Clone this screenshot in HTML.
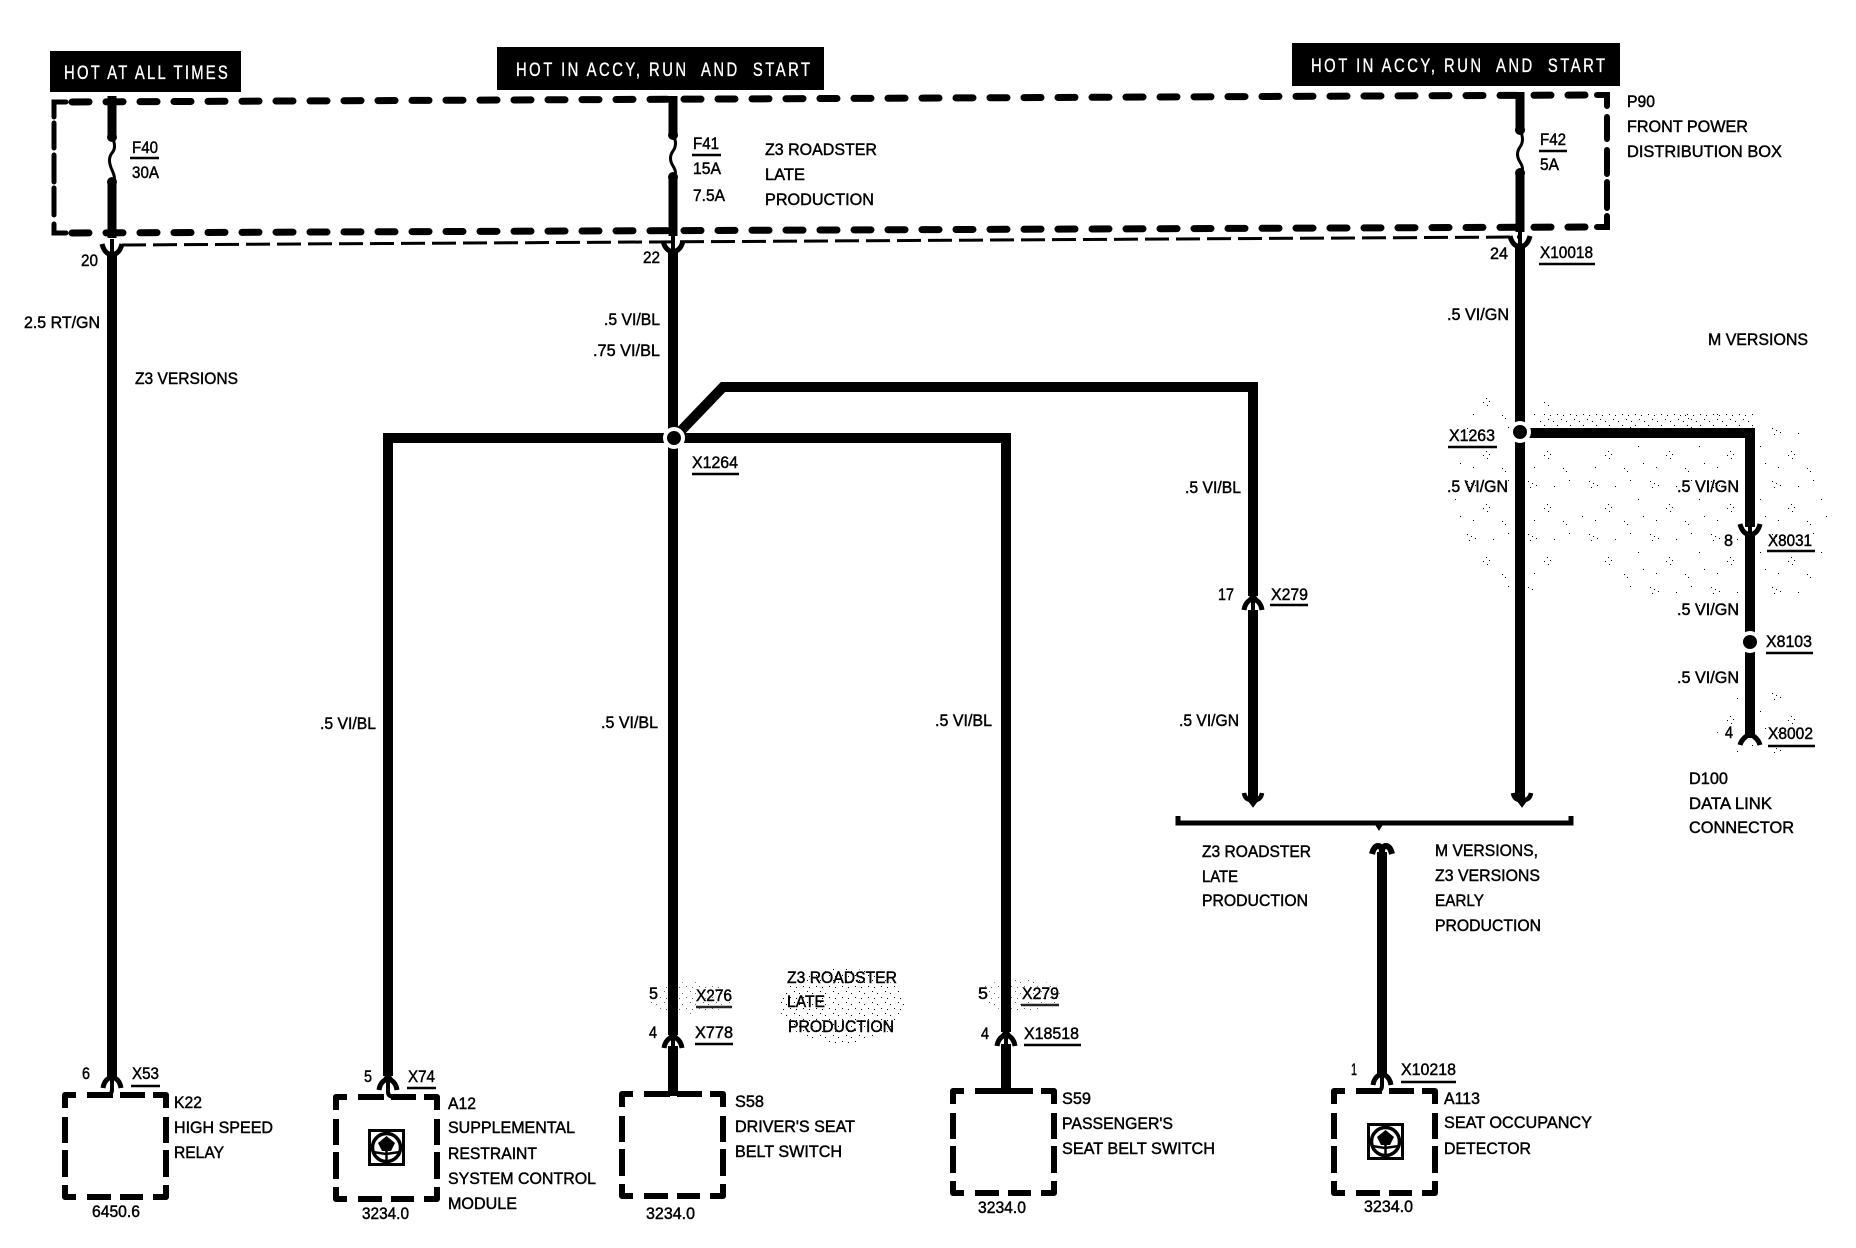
<!DOCTYPE html>
<html><head><meta charset="utf-8"><title>Wiring diagram</title>
<style>
html,body{margin:0;padding:0;background:#fff}
svg{display:block}
text{font-family:"Liberation Sans",sans-serif;font-size:16.5px;fill:#000;stroke:#000;stroke-width:.45px}
.h{fill:#fff;stroke:#fff;font-size:19px;stroke-width:.35px}
.w{fill:none;stroke:#000;stroke-width:10}
.t{fill:none;stroke:#000;stroke-width:3}
.u{stroke:#000;stroke-width:2.5}
.g{opacity:.85}
</style></head><body>
<svg width="1856" height="1248" viewBox="0 0 1856 1248" xmlns="http://www.w3.org/2000/svg">
<defs>
<pattern id="sp" width="61" height="53" patternUnits="userSpaceOnUse">
<path d="M3 4h1v1h-1zM7 6h1v1h-1zM5 10h1v1h-1zM11 8h1v1h-1zM29 9h1v1h-1zM44 3h1v1h-1zM22 27h1v1h-1zM25 30h1v1h-1zM19 31h1v1h-1zM23 34h1v1h-1zM52 22h1v1h-1zM38 44h1v1h-1zM41 47h1v1h-1zM9 43h1v1h-1zM57 39h1v1h-1z" fill="#000"/>
</pattern>
<pattern id="sd" width="13" height="11" patternUnits="userSpaceOnUse">
<path d="M1 1h1v1h-1zM6 3h1v1h-1zM10 7h1v1h-1zM3 8h1v1h-1z" fill="#000"/>
</pattern>
<g id="box" fill="none" stroke="#000" stroke-width="6" stroke-linejoin="round">
<path d="M0 13V0H11M22 0H48M55 0H80M88 0H101V13M0 22V48M0 55V82M101 22V48M101 55V82M0 90V102H11M22 102H46M55 102H78M88 102H101V90"/>
</g>
<g id="up"><path d="M-9 10Q-8 3 -3 0L0 -4L3 0Q8 3 9 10" fill="none" stroke="#000" stroke-width="5"/><path d="M0 0V10" stroke="#000" stroke-width="4"/></g>
<g id="dn"><path d="M-10 -4Q-8 4 -3 6L0 10L3 6Q8 4 10 -4" fill="none" stroke="#000" stroke-width="5"/><path d="M0 -9V8" stroke="#000" stroke-width="4"/></g>
<g id="en"><path d="M-9 -3Q-8 3 -3 4L0 8L3 4Q8 3 9 -3" fill="none" stroke="#000" stroke-width="4.5"/><path d="M0 -6V6" stroke="#000" stroke-width="6"/></g>
<g id="ic">
<rect x="1.5" y="1.5" width="34" height="34" fill="#fff" stroke="#000" stroke-width="3"/>
<circle cx="18.5" cy="18.5" r="14" fill="#fff" stroke="#000" stroke-width="3.5"/>
<path d="M18.5 7L27 14L23 22H14L10 14Z" fill="#000"/>
<path d="M18.5 20V33M5 23L18 25L32 23" stroke="#000" stroke-width="2.5" fill="none"/>
</g>
</defs>

<!-- speckle -->
<g>
<ellipse cx="1515" cy="490" rx="62" ry="105" fill="url(#sp)"/>
<ellipse cx="1690" cy="510" rx="110" ry="100" fill="url(#sp)"/>
<ellipse cx="1780" cy="510" rx="50" ry="90" fill="url(#sp)"/>
<rect x="1540" y="414" width="215" height="12" fill="url(#sd)"/>
<rect x="1700" y="500" width="50" height="60" fill="url(#sp)"/>
<ellipse cx="1760" cy="720" rx="45" ry="40" fill="url(#sp)"/>
<ellipse cx="842" cy="1006" rx="62" ry="38" fill="url(#sd)"/>
<ellipse cx="690" cy="998" rx="42" ry="16" fill="url(#sd)" opacity=".6"/>
<ellipse cx="1020" cy="995" rx="42" ry="16" fill="url(#sd)" opacity=".6"/>
</g>

<!-- header labels -->
<rect x="50" y="51" width="191" height="41" fill="#000"/>
<rect x="497" y="47" width="327" height="43" fill="#000"/>
<rect x="1292" y="43" width="328" height="43" fill="#000"/>
<g transform="translate(64 79) scale(.78 1)"><text class="h" textLength="210" lengthAdjust="spacing">HOT AT ALL TIMES</text></g>
<g transform="translate(516 76) scale(.78 1)"><text class="h" textLength="377" lengthAdjust="spacing" xml:space="preserve">HOT IN ACCY, RUN  AND  START</text></g>
<g transform="translate(1311 72) scale(.78 1)"><text class="h" textLength="377" lengthAdjust="spacing" xml:space="preserve">HOT IN ACCY, RUN  AND  START</text></g>

<!-- P90 dashed box -->
<g fill="none" stroke="#000" stroke-linecap="round">
<path d="M72 102L1590 95" stroke-width="7" stroke-dasharray="17 17"/>
<path d="M72 233L1590 227" stroke-width="7" stroke-dasharray="17 17"/>
<path d="M66 102H54V117M54 123V148M54 155V182M54 188V215M54 224V233H66" stroke-width="5"/>
<path d="M1597 95H1607V106M1607 117V139M1607 150V174M1607 182V208M1607 216V227H1597" stroke-width="6"/>
<path d="M122 245L1520 237" stroke-width="3" stroke-dasharray="24 7" stroke-linecap="butt"/>
</g>

<!-- fused feeds -->
<path class="w" d="M112 96V137M112 182V238" style="stroke-width:9"/>
<path class="t" d="M112 137Q117 147 112 153T112 170T112 182"/>
<circle cx="112" cy="137" r="5"/><circle cx="112" cy="182" r="5"/>
<path class="w" d="M673 96V135M673 177V236" style="stroke-width:9"/>
<path class="t" d="M673 135Q678 144 673 151T673 166T673 177"/>
<circle cx="673" cy="135" r="5"/><circle cx="673" cy="177" r="5"/>
<path class="w" d="M1520 92V130M1520 173V232" style="stroke-width:9"/>
<path class="t" d="M1520 130Q1525 140 1520 147T1520 162T1520 173"/>
<circle cx="1520" cy="130" r="5"/><circle cx="1520" cy="173" r="5"/>
<use href="#dn" x="112" y="248"/><use href="#dn" x="673" y="245"/><use href="#dn" x="1520" y="240"/>

<!-- main wires -->
<path class="w" d="M112 252V1076"/>
<path class="w" d="M673 250V1035"/>
<path class="w" d="M1520 248V800"/>
<path class="w" d="M388 1076V438H1006V1032"/>
<path class="w" d="M674 438L723 387H1253V596"/>
<path class="w" d="M1253 610V800"/>
<path class="w" d="M1528 433H1750V527"/>
<path class="w" d="M1750 532V738"/>
<circle cx="674" cy="438" r="11" fill="#fff"/><circle cx="674" cy="438" r="7"/>
<circle cx="1520" cy="432" r="11" fill="#fff"/><circle cx="1520" cy="432" r="7"/>
<circle cx="1750" cy="642" r="11" fill="#fff"/><circle cx="1750" cy="642" r="7"/>

<!-- connectors -->
<use href="#up" x="112" y="1078"/>
<path class="t" d="M112 1082V1090Q112 1095 105 1095H90" style="stroke-width:4"/>
<use href="#up" x="388" y="1080"/>
<path class="t" d="M388 1084V1092Q388 1097 395 1097H415" style="stroke-width:4"/>
<use href="#up" x="673" y="1038"/>
<path class="w" d="M673 1046V1096"/>
<use href="#up" x="1006" y="1036"/>
<path class="w" d="M1006 1044V1094"/>
<use href="#up" x="1253" y="600"/>
<use href="#en" x="1253" y="796"/>
<use href="#en" x="1522" y="796"/>
<use href="#dn" x="1750" y="528"/>
<path d="M1750 728V738M1740 745Q1742 738 1750 734Q1758 738 1760 745" fill="none" stroke="#000" stroke-width="5"/>
<path class="w" d="M1382 852V1074"/>
<path d="M1372 854Q1374 846 1378 846Q1382 846 1382 852Q1382 846 1386 846Q1390 846 1392 854" fill="none" stroke="#000" stroke-width="6"/>
<use href="#up" x="1382" y="1075"/>
<path class="t" d="M1382 1079V1086Q1382 1091 1375 1091H1358" style="stroke-width:4"/>

<!-- bracket -->
<path d="M1178 816V823H1571V816" fill="none" stroke="#000" stroke-width="5"/>
<path d="M1374 823L1379 831L1384 823Z"/>

<!-- component boxes -->
<use href="#box" x="65" y="1095"/>
<use href="#box" x="336" y="1097"/>
<use href="#box" x="622" y="1094"/>
<use href="#box" x="953" y="1091"/>
<use href="#box" x="1334" y="1091"/>
<use href="#ic" x="368" y="1129"/>
<use href="#ic" x="1367" y="1123"/>

<!-- underlines -->
<path class="u" d="M130 158H159M692 155H721M1539 151H1567M1539 264H1595M692 474H739M1270 605H1308M1448 447H1497M1767 551H1815M1766 653H1813M1768 746H1815M131 1086H160M407 1088H436M695 1044H733M1024 1045H1081M1401 1082H1456"/>
<path class="u g" d="M696 1007H732M1021 1005H1059"/>

<!-- labels -->
<text x="132" y="153" textLength="26" lengthAdjust="spacingAndGlyphs">F40</text>
<text x="132" y="178" textLength="27" lengthAdjust="spacingAndGlyphs">30A</text>
<text x="693" y="149" textLength="26" lengthAdjust="spacingAndGlyphs">F41</text>
<text x="693" y="174" textLength="28" lengthAdjust="spacingAndGlyphs">15A</text>
<text x="693" y="201" textLength="32" lengthAdjust="spacingAndGlyphs">7.5A</text>
<text x="765" y="155" textLength="112" lengthAdjust="spacingAndGlyphs">Z3 ROADSTER</text>
<text x="765" y="180" textLength="40" lengthAdjust="spacingAndGlyphs">LATE</text>
<text x="765" y="205" textLength="109" lengthAdjust="spacingAndGlyphs">PRODUCTION</text>
<text x="81" y="266" textLength="17" lengthAdjust="spacingAndGlyphs">20</text>
<text x="643" y="263" textLength="17" lengthAdjust="spacingAndGlyphs">22</text>
<text x="24" y="328" textLength="76" lengthAdjust="spacingAndGlyphs">2.5 RT/GN</text>
<text x="604" y="325" textLength="56" lengthAdjust="spacingAndGlyphs">.5 VI/BL</text>
<text x="593" y="356" textLength="67" lengthAdjust="spacingAndGlyphs">.75 VI/BL</text>
<text x="1627" y="107" textLength="28" lengthAdjust="spacingAndGlyphs">P90</text>
<text x="1627" y="132" textLength="121" lengthAdjust="spacingAndGlyphs">FRONT POWER</text>
<text x="1627" y="157" textLength="155" lengthAdjust="spacingAndGlyphs">DISTRIBUTION BOX</text>
<text x="1540" y="145" textLength="26" lengthAdjust="spacingAndGlyphs">F42</text>
<text x="1540" y="170" textLength="19" lengthAdjust="spacingAndGlyphs">5A</text>
<text x="1490" y="259" textLength="18" lengthAdjust="spacingAndGlyphs">24</text>
<text x="1540" y="258" textLength="53" lengthAdjust="spacingAndGlyphs">X10018</text>
<text x="1447" y="320" textLength="62" lengthAdjust="spacingAndGlyphs">.5 VI/GN</text>
<text x="1708" y="345" textLength="100" lengthAdjust="spacingAndGlyphs">M VERSIONS</text>
<text x="135" y="384" textLength="103" lengthAdjust="spacingAndGlyphs">Z3 VERSIONS</text>
<text x="692" y="468" textLength="46" lengthAdjust="spacingAndGlyphs">X1264</text>
<text x="1185" y="493" textLength="56" lengthAdjust="spacingAndGlyphs">.5 VI/BL</text>
<text x="1218" y="600" textLength="16" lengthAdjust="spacingAndGlyphs">17</text>
<text x="1271" y="600" textLength="37" lengthAdjust="spacingAndGlyphs">X279</text>
<text x="1449" y="441" textLength="46" lengthAdjust="spacingAndGlyphs">X1263</text>
<text x="1447" y="492" textLength="61" lengthAdjust="spacingAndGlyphs">.5 VI/GN</text>
<text x="1677" y="492" textLength="62" lengthAdjust="spacingAndGlyphs">.5 VI/GN</text>
<text x="1724" y="546" textLength="9" lengthAdjust="spacingAndGlyphs">8</text>
<text x="1768" y="546" textLength="44" lengthAdjust="spacingAndGlyphs">X8031</text>
<text x="1677" y="615" textLength="62" lengthAdjust="spacingAndGlyphs">.5 VI/GN</text>
<text x="1766" y="647" textLength="46" lengthAdjust="spacingAndGlyphs">X8103</text>
<text x="1677" y="683" textLength="62" lengthAdjust="spacingAndGlyphs">.5 VI/GN</text>
<text x="1725" y="738" textLength="8" lengthAdjust="spacingAndGlyphs">4</text>
<text x="1768" y="739" textLength="45" lengthAdjust="spacingAndGlyphs">X8002</text>
<text x="1689" y="784" textLength="39" lengthAdjust="spacingAndGlyphs">D100</text>
<text x="1689" y="809" textLength="83" lengthAdjust="spacingAndGlyphs">DATA LINK</text>
<text x="1689" y="833" textLength="105" lengthAdjust="spacingAndGlyphs">CONNECTOR</text>
<text x="320" y="729" textLength="56" lengthAdjust="spacingAndGlyphs">.5 VI/BL</text>
<text x="601" y="728" textLength="57" lengthAdjust="spacingAndGlyphs">.5 VI/BL</text>
<text x="935" y="726" textLength="57" lengthAdjust="spacingAndGlyphs">.5 VI/BL</text>
<text x="1179" y="726" textLength="60" lengthAdjust="spacingAndGlyphs">.5 VI/GN</text>
<text x="1202" y="857" textLength="109" lengthAdjust="spacingAndGlyphs">Z3 ROADSTER</text>
<text x="1202" y="882" textLength="36" lengthAdjust="spacingAndGlyphs">LATE</text>
<text x="1202" y="906" textLength="106" lengthAdjust="spacingAndGlyphs">PRODUCTION</text>
<text x="1435" y="856" textLength="103" lengthAdjust="spacingAndGlyphs">M VERSIONS,</text>
<text x="1435" y="881" textLength="105" lengthAdjust="spacingAndGlyphs">Z3 VERSIONS</text>
<text x="1435" y="906" textLength="49" lengthAdjust="spacingAndGlyphs">EARLY</text>
<text x="1435" y="931" textLength="106" lengthAdjust="spacingAndGlyphs">PRODUCTION</text>
<text x="787" y="983" textLength="110" lengthAdjust="spacingAndGlyphs">Z3 ROADSTER</text>
<text x="787" y="1007" textLength="38" lengthAdjust="spacingAndGlyphs">LATE</text>
<text x="788" y="1032" textLength="106" lengthAdjust="spacingAndGlyphs">PRODUCTION</text>
<text x="649" y="999" textLength="9" lengthAdjust="spacingAndGlyphs">5</text>
<text x="696" y="1001" textLength="36" lengthAdjust="spacingAndGlyphs">X276</text>
<text x="978" y="999" textLength="10" lengthAdjust="spacingAndGlyphs">5</text>
<text x="1022" y="999" textLength="37" lengthAdjust="spacingAndGlyphs">X279</text>
<text x="649" y="1038" textLength="8" lengthAdjust="spacingAndGlyphs">4</text>
<text x="695" y="1038" textLength="38" lengthAdjust="spacingAndGlyphs">X778</text>
<text x="981" y="1039" textLength="8" lengthAdjust="spacingAndGlyphs">4</text>
<text x="1024" y="1039" textLength="55" lengthAdjust="spacingAndGlyphs">X18518</text>
<text x="82" y="1079" textLength="8" lengthAdjust="spacingAndGlyphs">6</text>
<text x="132" y="1079" textLength="27" lengthAdjust="spacingAndGlyphs">X53</text>
<text x="174" y="1108" textLength="28" lengthAdjust="spacingAndGlyphs">K22</text>
<text x="174" y="1133" textLength="99" lengthAdjust="spacingAndGlyphs">HIGH SPEED</text>
<text x="174" y="1158" textLength="50" lengthAdjust="spacingAndGlyphs">RELAY</text>
<text x="92" y="1217" textLength="48" lengthAdjust="spacingAndGlyphs">6450.6</text>
<text x="364" y="1082" textLength="8" lengthAdjust="spacingAndGlyphs">5</text>
<text x="408" y="1082" textLength="27" lengthAdjust="spacingAndGlyphs">X74</text>
<text x="448" y="1109" textLength="28" lengthAdjust="spacingAndGlyphs">A12</text>
<text x="448" y="1133" textLength="127" lengthAdjust="spacingAndGlyphs">SUPPLEMENTAL</text>
<text x="448" y="1159" textLength="89" lengthAdjust="spacingAndGlyphs">RESTRAINT</text>
<text x="448" y="1184" textLength="148" lengthAdjust="spacingAndGlyphs">SYSTEM CONTROL</text>
<text x="448" y="1209" textLength="69" lengthAdjust="spacingAndGlyphs">MODULE</text>
<text x="362" y="1219" textLength="47" lengthAdjust="spacingAndGlyphs">3234.0</text>
<text x="735" y="1107" textLength="29" lengthAdjust="spacingAndGlyphs">S58</text>
<text x="735" y="1132" textLength="120" lengthAdjust="spacingAndGlyphs">DRIVER'S SEAT</text>
<text x="735" y="1157" textLength="107" lengthAdjust="spacingAndGlyphs">BELT SWITCH</text>
<text x="646" y="1219" textLength="49" lengthAdjust="spacingAndGlyphs">3234.0</text>
<text x="1062" y="1104" textLength="29" lengthAdjust="spacingAndGlyphs">S59</text>
<text x="1062" y="1129" textLength="111" lengthAdjust="spacingAndGlyphs">PASSENGER'S</text>
<text x="1062" y="1154" textLength="153" lengthAdjust="spacingAndGlyphs">SEAT BELT SWITCH</text>
<text x="978" y="1213" textLength="48" lengthAdjust="spacingAndGlyphs">3234.0</text>
<text x="1351" y="1075" textLength="6" lengthAdjust="spacingAndGlyphs">1</text>
<text x="1401" y="1075" textLength="55" lengthAdjust="spacingAndGlyphs">X10218</text>
<text x="1444" y="1104" textLength="36" lengthAdjust="spacingAndGlyphs">A113</text>
<text x="1444" y="1128" textLength="148" lengthAdjust="spacingAndGlyphs">SEAT OCCUPANCY</text>
<text x="1444" y="1154" textLength="87" lengthAdjust="spacingAndGlyphs">DETECTOR</text>
<text x="1364" y="1212" textLength="49" lengthAdjust="spacingAndGlyphs">3234.0</text>
</svg>
</body></html>
